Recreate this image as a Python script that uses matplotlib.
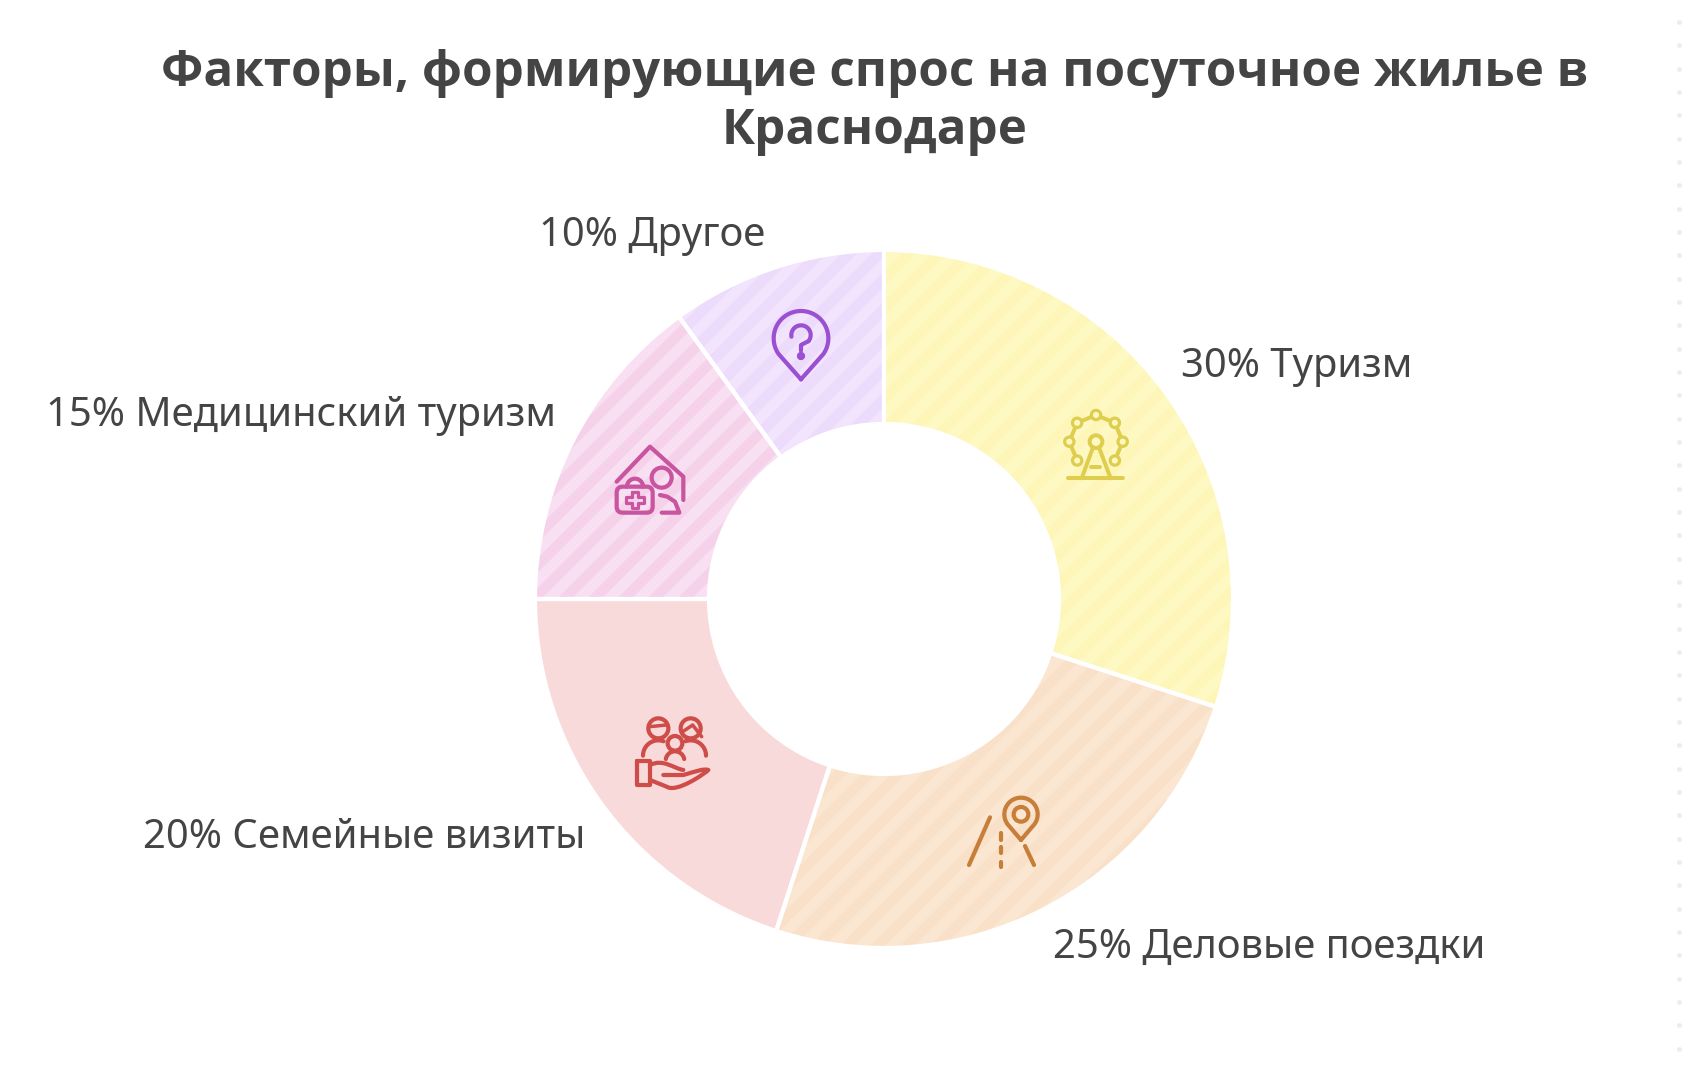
import numpy as np
import matplotlib
matplotlib.use('Agg')
import matplotlib.pyplot as plt
from matplotlib.path import Path
from matplotlib.patches import PathPatch, Circle, FancyBboxPatch

plt.rcParams['font.family'] = ['Noto Sans', 'DejaVu Sans']

title_lines = ['Факторы, формирующие спрос на посуточное жилье в', 'Краснодаре']
categories = ['Туризм', 'Деловые поездки', 'Семейные визиты', 'Медицинский туризм', 'Другое']
shares = [30, 25, 20, 15, 10]
base_colors = ['#fef8c3', '#fbe6d2', '#f9dada', '#f8e0f2', '#f1e4fc']
stripe_colors = ['#fdf6b8', '#f9e1c9', '#f9dada', '#f6d2ea', '#ecdbfb']
icon_colors = ['#dfcd4e', '#c67e38', '#cf4d49', '#c9549f', '#9b50d2']

W, H = 1690, 1068
CX, CY = 884, 599
R_OUT, R_IN = 349, 175
TEXT = '#444444'

fig = plt.figure(figsize=(W / 100, H / 100), dpi=100)
ax = fig.add_axes([0, 0, 1, 1])


def Y(y):
    return H - y


def lw(px):
    return px * 0.72


# ring: fill first, stripes on top, white separators last
wedges, _ = ax.pie(shares, colors=base_colors, startangle=90, counterclock=False,
                   radius=R_OUT, center=(CX, Y(CY)), frame=True,
                   wedgeprops=dict(width=R_OUT - R_IN, linewidth=0))
spacing = 30
for wedge, col in zip(wedges, stripe_colors):
    for off in np.arange(-1600, 1600, spacing):
        line, = ax.plot([CX - 500, CX + 500], [Y(CY) - 500 + off, Y(CY) + 500 + off],
                        color=col, lw=lw(10.5), solid_capstyle='butt', zorder=2)
        line.set_clip_path(wedge)
ax.pie(shares, colors=['none'] * 5, startangle=90, counterclock=False,
       radius=R_OUT, center=(CX, Y(CY)), frame=True,
       wedgeprops=dict(width=R_OUT - R_IN, linewidth=3, edgecolor='white', zorder=3))

ax.set_xlim(0, W)
ax.set_ylim(0, H)
ax.axis('off')


# icon helpers, coordinates are given at 3x around an origin
class Icon:
    def __init__(self, ox, oy, color):
        self.ox, self.oy, self.color = ox, oy, color

    def xy(self, pts):
        pts = np.asarray(pts, float)
        return self.ox + pts[:, 0] / 3, Y(self.oy + pts[:, 1] / 3)

    def line(self, pts, width=4.2):
        x, y = self.xy(pts)
        ax.plot(x, y, color=self.color, lw=lw(width), solid_capstyle='round',
                solid_joinstyle='round', zorder=5)

    def circle(self, x, y, r, fill=False, width=4.2, bg=None):
        px, py = self.xy([(x, y)])
        face = self.color if fill else (bg or 'none')
        ax.add_patch(Circle((px[0], py[0]), r / 3, fill=fill or bg is not None, fc=face,
                            ec=self.color, lw=lw(width), zorder=5))

    def curve(self, pts, codes, width=4.2):
        x, y = self.xy(pts)
        ax.add_patch(PathPatch(Path(np.column_stack([x, y]), codes), fc='none', ec=self.color,
                               lw=lw(width), capstyle='round', joinstyle='round', zorder=5))

    def arc(self, x, y, r, a0, a1, width=4.2):
        t = np.radians(np.linspace(a0, a1, 40))
        self.line(np.column_stack([x + r * np.cos(t), y + r * np.sin(t)]), width)


# ferris wheel
ic = Icon(1000, 330, icon_colors[0])
hx, hy, ring = 288, 335, 80
angs = np.radians([135, 180, 225, 270, 315, 360, 45])
px = hx + ring * np.cos(angs)
py = hy + ring * np.sin(angs)
ic.line(np.column_stack([px, py]), 4)
for a, b in zip(px, py):
    ic.circle(a, b, 14, width=3.2, bg=base_colors[0])
ic.circle(hx, hy, 19, width=4)
ic.line([(278, 355), (245, 445)], 4)
ic.line([(298, 355), (332, 445)], 4)
ic.line([(205, 445), (370, 445)], 4)
ic.line([(274, 412), (300, 412)], 4)

# location pin with question mark
ic = Icon(580, 280, icon_colors[4])
t = np.radians(np.linspace(145, 395, 60))
outline = [(663 + 82 * np.cos(a), 175 + 82 * np.sin(a)) for a in t]
ic.line([(663, 298)] + outline + [(663, 298)])
ic.arc(663, 165, 29, 170, 400)
ic.line([(686, 183), (663, 195), (663, 212)])
ic.circle(663, 228, 6, fill=True)

# house with first aid case
ic = Icon(580, 280, icon_colors[3])
ic.line([(110, 605), (210, 500), (310, 590), (310, 660)])
ic.circle(245, 593, 30)
ic.line([(240, 645), (262, 650), (285, 665), (298, 698), (245, 698)])
ax.add_patch(FancyBboxPatch((580 + 110 / 3, Y(280 + 698 / 3)), 108 / 3, 78 / 3,
                            boxstyle='round,pad=0,rounding_size=6', fc='none',
                            ec=icon_colors[3], lw=lw(4.2), zorder=5))
ic.arc(165, 620, 24, 180, 360)
ic.line([(155, 635), (175, 635), (175, 650), (192, 650), (192, 670), (175, 670), (175, 685),
         (155, 685), (155, 670), (138, 670), (138, 650), (155, 650), (155, 635)], 3.2)

# family over an open hand
ic = Icon(600, 690, icon_colors[2])
ic.circle(175, 115, 30)
ic.circle(272, 115, 30)
ic.circle(225, 160, 22)
ic.line([(148, 110), (200, 105)], 3.5)
ic.line([(248, 125), (278, 105), (305, 140)], 3.5)
ic.arc(175, 197, 46, 180, 290)
ic.arc(272, 197, 46, 250, 360)
ic.arc(225, 212, 28, 190, 350)
ic.line([(112, 212), (150, 212), (150, 285), (112, 285), (112, 212)])
ic.curve([(150, 225), (190, 205), (220, 235), (250, 240), (190, 255), (250, 255),
          (285, 245), (310, 235), (325, 240), (315, 250), (230, 310), (200, 290), (150, 270)],
         [Path.MOVETO, Path.CURVE4, Path.CURVE4, Path.CURVE4, Path.MOVETO, Path.LINETO,
          Path.CURVE4, Path.CURVE4, Path.CURVE4, Path.CURVE4, Path.CURVE4, Path.CURVE4, Path.LINETO])

# road with a pin
ic = Icon(600, 690, icon_colors[1])
t = np.radians(np.linspace(135, 405, 60))
outline = [(1263 + 50 * np.cos(a), 373 + 50 * np.sin(a)) for a in t]
ic.line([(1263, 450)] + outline + [(1263, 450)])
ic.circle(1263, 373, 22)
ic.line([(1170, 382), (1107, 525)])
ic.line([(1204, 428), (1204, 450)])
ic.line([(1204, 470), (1204, 490)])
ic.line([(1204, 515), (1204, 530)])
ic.line([(1275, 468), (1302, 525)])

# labels
label_pos = [(1181, 367, 'left'), (1053, 948, 'left'), (585, 838, 'right'),
             (556, 416, 'right'), (765, 236, 'right')]
for name, val, (x, y, ha) in zip(categories, shares, label_pos):
    ax.text(x, Y(y), f'{val}% {name}', ha=ha, va='center', fontsize=28.8, color=TEXT, zorder=6)

# title
title_font = ['Open Sans', 'DejaVu Sans']
ax.text(875, Y(73), title_lines[0], ha='center', va='center', fontsize=35.5, family=title_font,
        fontweight='bold', color=TEXT)
ax.text(875, Y(132), title_lines[1], ha='center', va='center', fontsize=35.5, family=title_font,
        fontweight='bold', color=TEXT)

# dotted edge on the right
ax.scatter(np.full(46, 1679), Y(22 + 23.33 * np.arange(46)), s=12, color='#ececec', lw=0)

fig.savefig('out.png', dpi=100)
